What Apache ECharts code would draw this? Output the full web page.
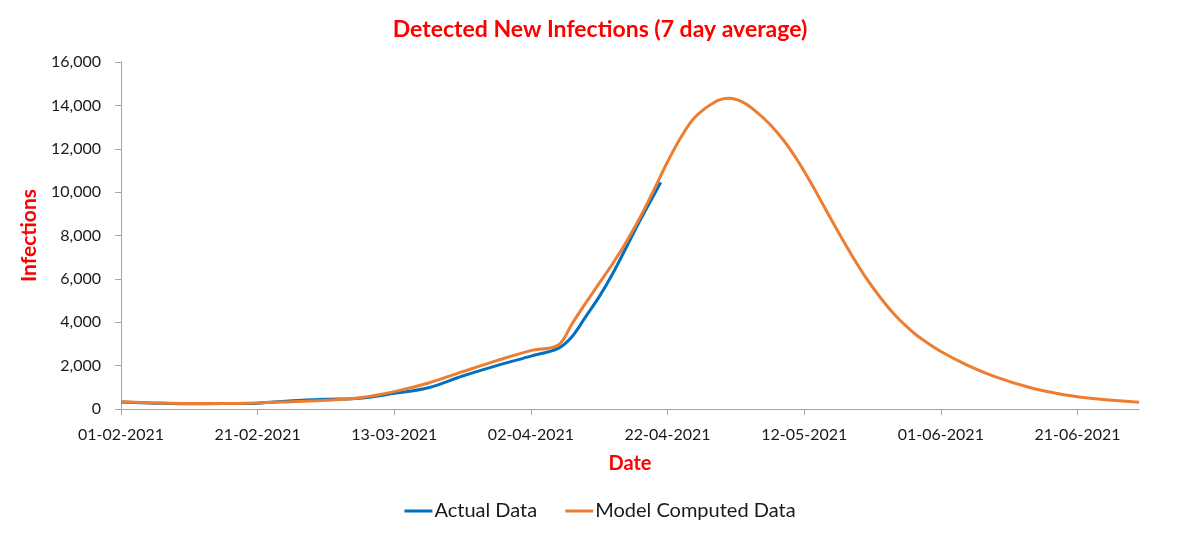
<!DOCTYPE html>
<html>
<head>
<meta charset="utf-8">
<script src="https://cdn.jsdelivr.net/npm/echarts@6/dist/echarts.min.js"></script>
<style>
html,body{margin:0;padding:0;background:#fff;}
#c{width:1200px;height:538px;}
</style>
</head>
<body>
<div id="c"></div>
<script>
// Date range: 01-02-2021 .. 30-06-2021 (one category per day)
const startDate = Date.UTC(2021, 1, 1);
const dayCount = 150;
const dateLabels = [];
for (let i = 0; i < dayCount; i++) {
  const d = new Date(startDate + i * 86400000);
  const dd = String(d.getUTCDate()).padStart(2, '0');
  const mm = String(d.getUTCMonth() + 1).padStart(2, '0');
  dateLabels.push(dd + '-' + mm + '-' + d.getUTCFullYear());
}

// Actual Data (day index from 01-02-2021, value)
const actualDays   = [0,   5,   10,  15,  20,  25,  30,  35,  40,  45,  50,   55,   60,   64,   66,   68,   70,   72,   74,   76,   78,   79];
const actualValues = [320, 270, 240, 250, 270, 380, 450, 500, 720, 980, 1520, 2000, 2440, 2800, 3330, 4250, 5180, 6260, 7480, 8710, 9870, 10450];

// Model Computed Data
const modelDays   = [0,   5,   10,  15,  20,  25,  30,  35,  40,  45,   50,   55,   60,   64,   66,   68,   70,   72,   74,   76,   78,    80,    82,    84,    87,    89,    91,    93,    95,    97,    99,    101,   103,  105,  107,  109,  111,  113,  115,  117,  120,  124,  128,  133, 138, 143, 149];
const modelValues = [330, 280, 250, 250, 280, 340, 400, 520, 800, 1200, 1720, 2230, 2690, 2950, 3920, 4880, 5800, 6720, 7720, 8850, 10100, 11400, 12550, 13450, 14170, 14330, 14150, 13700, 13120, 12380, 11470, 10420, 9280, 8150, 7070, 6070, 5200, 4430, 3800, 3270, 2650, 2000, 1480, 990, 660, 460, 310];

const yTicks = [0, 2000, 4000, 6000, 8000, 10000, 12000, 14000, 16000];

const pair = (xs, ys) => xs.map((x, i) => [x, ys[i]]);
const FONT = 'Lato, "Open Sans", sans-serif';

const chart = echarts.init(document.getElementById('c'));
chart.setOption({
  animation: false,
  backgroundColor: '#ffffff',
  title: {
    text: 'Detected New Infections (7 day average)',
    left: 'center',
    top: 13,
    textStyle: { color: '#ff0000', fontWeight: 'bold', fontSize: 23, fontFamily: FONT }
  },
  legend: {
    bottom: 12,
    left: 'center',
    icon: 'rect',
    itemWidth: 28,
    itemHeight: 3,
    itemGap: 28,
    textStyle: { color: '#1a1a1a', fontSize: 20, fontFamily: FONT, padding: [0, 0, 0, -3] },
    data: ['Actual Data', 'Model Computed Data']
  },
  grid: { left: 121, right: 61, top: 62, bottom: 129, containLabel: false },
  xAxis: {
    type: 'category',
    data: dateLabels,
    boundaryGap: false,
    name: 'Date',
    nameLocation: 'middle',
    nameGap: 45,
    nameTextStyle: { color: '#ff0000', fontWeight: 'bold', fontSize: 20, fontFamily: FONT },
    axisLine: { lineStyle: { color: '#a6a6a6', width: 1 } },
    axisTick: { interval: 19, length: 6, lineStyle: { color: '#a6a6a6' } },
    axisLabel: { interval: 19, margin: 18, color: '#1a1a1a', fontSize: 16, fontFamily: FONT },
    splitLine: { show: false }
  },
  yAxis: {
    type: 'value',
    min: yTicks[0],
    max: yTicks[yTicks.length - 1],
    interval: 2000,
    name: 'Infections',
    nameLocation: 'middle',
    nameRotate: 90,
    nameGap: 79,
    nameTextStyle: { color: '#ff0000', fontWeight: 'bold', fontSize: 21, fontFamily: FONT },
    axisLine: { show: true, lineStyle: { color: '#a6a6a6', width: 1 } },
    axisTick: { show: true, length: 6, inside: false, lineStyle: { color: '#a6a6a6' } },
    axisLabel: {
      margin: 20,
      color: '#1a1a1a',
      fontSize: 16,
      fontFamily: FONT,
      formatter: v => v.toLocaleString('en-US')
    },
    splitLine: { show: false }
  },
  series: [
    {
      name: 'Actual Data',
      type: 'line',
      data: pair(actualDays, actualValues),
      smooth: 0.35,
      showSymbol: false,
      symbol: 'none',
      lineStyle: { color: '#0070c0', width: 3 },
      itemStyle: { color: '#0070c0' },
      z: 2
    },
    {
      name: 'Model Computed Data',
      type: 'line',
      data: pair(modelDays, modelValues),
      smooth: 0.35,
      showSymbol: false,
      symbol: 'none',
      lineStyle: { color: '#ed7d31', width: 3 },
      itemStyle: { color: '#ed7d31' },
      z: 3
    }
  ]
});
</script>
</body>
</html>
